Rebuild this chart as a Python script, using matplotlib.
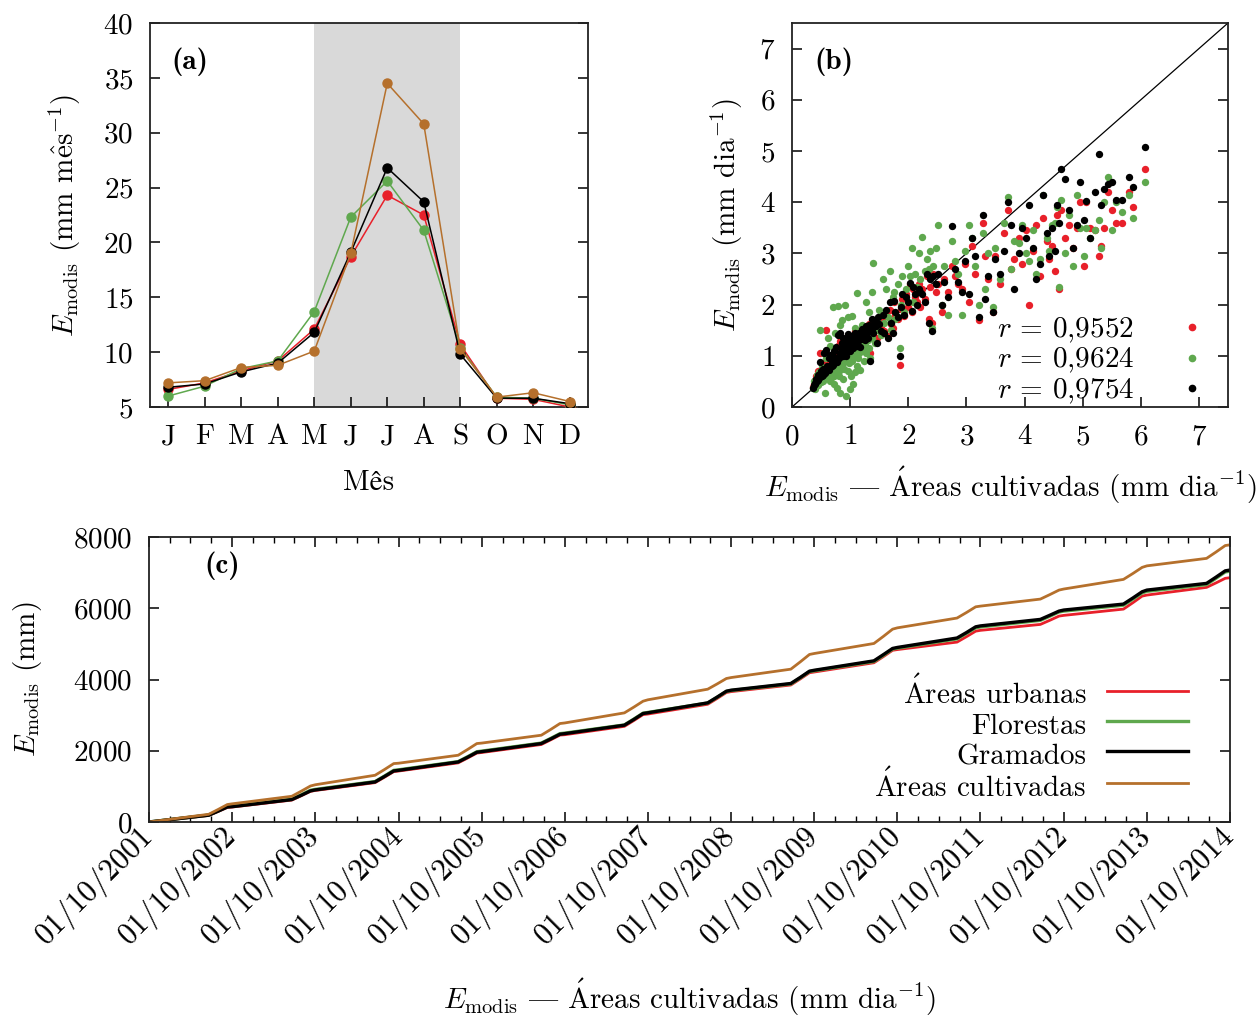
import datetime as dt
import matplotlib
matplotlib.use("Agg")
import matplotlib.pyplot as plt
import matplotlib.dates as mdates
from matplotlib.lines import Line2D
from matplotlib import font_manager, ft2font

plt.rcParams['font.family'] = ['cmr10', 'STIXGeneral', 'DejaVu Serif']
plt.rcParams['mathtext.fontset'] = 'cm'
plt.rcParams['axes.unicode_minus'] = False
plt.rcParams['axes.formatter.use_mathtext'] = True

FS = 21


def cm_char(glyphname, default):
    """Return the character that draws a given glyph of the Computer Modern font."""
    try:
        f = ft2font.FT2Font(font_manager.findfont('cmr10'))
        for code, gi in f.get_charmap().items():
            if f.get_glyph_name(gi) == glyphname:
                return chr(code)
    except Exception:
        pass
    return default


EMDASH = cm_char('endash', '{')
A_ACUTE = r'$\acute{\mathrm{A}}$'
E_HAT = r'$\hat{\mathrm{e}}$'

# ---------------- data: panel (a) monthly ----------------
months = ['J', 'F', 'M', 'A', 'M', 'J', 'J', 'A', 'S', 'O', 'N', 'D']
a_urbanas = [6.6, 7.2, 8.3, 9.2, 12.1, 18.7, 24.3, 22.5, 10.7, 5.8, 5.7, 5.0]
a_florestas = [6.0, 6.9, 8.5, 9.2, 13.7, 22.3, 25.6, 21.1, 10.4, 5.9, 5.8, 5.2]
a_gramados = [6.8, 7.1, 8.2, 9.0, 11.8, 19.1, 26.8, 23.7, 9.8, 5.8, 5.8, 5.3]
a_cultivadas = [7.2, 7.4, 8.6, 8.8, 10.1, 19.0, 34.5, 30.8, 10.3, 5.9, 6.3, 5.5]

# ---------------- data: panel (b) scatter ----------------
x_low = [0.36, 0.38, 0.40, 0.41, 0.43, 0.45, 0.47, 0.48, 0.50, 0.52,
         0.54, 0.55, 0.57, 0.58, 0.60, 0.62, 0.63, 0.65, 0.66, 0.68,
         0.70, 0.71, 0.73, 0.74, 0.76, 0.77, 0.79, 0.80, 0.82, 0.83,
         0.85, 0.86, 0.88, 0.90, 0.91, 0.93, 0.94, 0.96, 0.97, 0.99,
         1.00, 1.02, 1.03, 1.05, 1.06, 1.08, 1.09, 1.11, 1.12, 1.14,
         1.16, 1.17, 1.19, 1.21, 1.23, 1.25, 1.27, 1.28, 1.30, 1.32,
         1.33, 1.35, 1.37, 1.38, 1.40, 1.42, 1.44, 1.46, 1.48, 1.50,
         0.39, 0.44, 0.49, 0.53, 0.59, 0.64, 0.69, 0.72, 0.78, 0.81,
         0.87, 0.89, 0.95, 0.98, 1.01, 1.04, 1.07, 1.10, 1.13, 1.15,
         1.18, 1.20, 1.24, 1.26, 1.29, 1.31, 1.34, 1.36, 1.41, 1.43]
r_low = [0.40, 0.45, 0.52, 0.60, 0.48, 0.70, 0.58, 1.05, 0.66, 0.62,
         0.75, 0.85, 0.70, 1.50, 0.82, 0.72, 0.92, 0.80, 1.00, 0.88,
         0.95, 0.78, 1.05, 0.90, 1.12, 0.85, 1.20, 0.95, 1.28, 1.00,
         0.92, 1.10, 1.30, 1.02, 1.18, 0.98, 1.25, 1.08, 1.40, 1.15,
         1.05, 1.22, 1.32, 1.12, 1.28, 1.20, 1.48, 1.18, 1.35, 1.25,
         1.42, 1.15, 1.30, 1.50, 1.38, 1.28, 1.55, 1.40, 1.32, 1.62,
         1.45, 1.05, 1.70, 1.50, 1.42, 1.65, 1.55, 1.35, 1.72, 1.60,
         0.42, 0.50, 0.55, 0.58, 0.68, 0.66, 0.78, 0.82, 0.86, 0.92,
         0.95, 1.00, 1.05, 1.08, 1.10, 1.15, 1.15, 1.22, 1.25, 1.30,
         1.32, 1.35, 1.40, 1.42, 1.45, 1.48, 1.50, 1.52, 1.58, 1.60]
g_low = [0.38, 0.50, 0.36, 0.55, 0.62, 0.42, 0.68, 1.50, 0.48, 0.78,
         0.55, 1.05, 0.28, 0.95, 0.62, 1.35, 0.70, 0.50, 1.20, 0.58,
         1.95, 0.65, 0.45, 1.45, 0.72, 0.38, 1.98, 0.60, 1.60, 0.28,
         0.80, 1.70, 0.55, 0.95, 2.00, 0.22, 1.30, 0.70, 1.75, 0.35,
         1.00, 0.60, 1.78, 0.45, 1.18, 0.68, 1.55, 0.80, 2.22, 0.95,
         1.30, 0.72, 1.10, 1.60, 0.90, 1.25, 2.05, 1.05, 1.45, 1.85,
         1.15, 0.96, 2.25, 1.35, 2.82, 1.25, 1.60, 1.70, 1.50, 1.90,
         0.40, 0.45, 0.60, 0.50, 0.65, 0.58, 0.70, 0.60, 0.78, 0.70,
         0.85, 0.75, 0.92, 0.85, 1.05, 0.90, 1.10, 1.00, 1.15, 1.05,
         1.20, 1.12, 1.30, 1.20, 1.40, 1.30, 1.45, 1.40, 1.55, 1.50]
b_low = [0.37, 0.42, 0.47, 0.55, 0.50, 0.62, 0.58, 0.88, 0.70, 0.60,
         0.74, 1.05, 0.66, 1.12, 0.80, 0.75, 0.95, 0.78, 1.02, 0.86,
         1.00, 0.82, 1.10, 0.92, 1.18, 0.88, 1.40, 0.98, 1.45, 1.05,
         1.15, 1.25, 1.35, 1.08, 1.22, 1.00, 1.30, 1.12, 1.42, 1.18,
         1.10, 1.25, 1.38, 1.15, 1.30, 1.22, 1.45, 1.20, 1.40, 1.28,
         1.45, 1.18, 1.32, 1.52, 1.35, 1.30, 1.58, 1.42, 1.35, 1.60,
         1.48, 0.90, 1.72, 1.52, 1.45, 1.68, 1.58, 1.25, 1.75, 1.62,
         0.44, 0.52, 0.58, 0.62, 0.70, 0.72, 0.80, 0.85, 0.90, 0.95,
         1.00, 1.05, 1.10, 1.12, 1.15, 1.18, 1.22, 1.25, 1.30, 1.32,
         1.35, 1.38, 1.42, 1.45, 1.48, 1.50, 1.52, 1.55, 1.60, 1.62]

x_mid = [1.53, 1.56, 1.58, 1.62, 1.65, 1.68, 1.70, 1.73, 1.75, 1.78,
         1.82, 1.85, 1.87, 1.90, 1.93, 1.96, 2.00, 2.03, 2.06, 2.08,
         2.12, 2.15, 2.18, 2.20, 2.24, 2.28, 2.32, 2.36, 2.38, 2.40,
         2.43, 2.47]
r_mid = [1.55, 1.75, 1.48, 1.85, 1.38, 1.90, 1.62, 1.55, 2.05, 1.80,
         1.72, 0.82, 1.92, 2.10, 1.78, 2.20, 1.95, 2.40, 1.85, 2.30,
         2.15, 2.05, 2.40, 1.95, 2.30, 2.10, 2.55, 1.72, 2.35, 1.65,
         2.60, 2.25]
g_mid = [1.40, 2.50, 1.65, 2.30, 1.75, 2.65, 1.50, 2.15, 2.25, 1.72,
         2.40, 1.15, 2.00, 2.55, 1.85, 2.30, 2.75, 2.55, 3.10, 2.05,
         2.60, 2.35, 3.00, 2.50, 3.33, 2.65, 2.90, 2.70, 3.05, 1.55,
         2.75, 3.10]
b_mid = [1.48, 1.80, 1.45, 1.90, 1.35, 2.05, 1.65, 1.45, 2.08, 1.85,
         1.75, 1.00, 1.95, 2.20, 1.80, 2.15, 2.05, 2.42, 1.88, 2.35,
         2.20, 2.00, 2.30, 2.25, 2.20, 2.05, 2.60, 1.65, 2.50, 1.48,
         2.55, 2.40]

x_high = [2.52, 2.58, 2.62, 2.68, 2.76, 2.80, 2.86, 2.92, 2.97, 3.05,
          3.10, 3.15, 3.22, 3.28, 3.32, 3.38, 3.45, 3.50, 3.58, 3.65,
          3.72, 3.76, 3.82, 3.90, 3.96, 4.02, 4.08, 4.15, 4.20, 4.26,
          4.32, 4.38, 4.42, 4.48, 4.52, 4.56, 4.60, 4.63, 4.70, 4.76,
          4.84, 4.90, 4.95, 5.02, 5.06, 5.12, 5.22, 5.28, 5.32, 5.36,
          5.44, 5.50, 5.58, 5.68, 5.80, 5.86, 6.08]
r_high = [2.40, 1.85, 2.50, 2.25, 2.75, 2.55, 2.40, 2.30, 2.80, 2.05,
          3.15, 2.60, 1.70, 3.60, 2.95, 2.50, 1.85, 2.95, 2.40, 3.40,
          3.85, 2.70, 2.90, 3.30, 2.80, 3.45, 2.00, 3.05, 3.55, 2.55,
          3.70, 3.25, 2.90, 3.15, 2.65, 3.75, 2.30, 3.85, 3.30, 3.55,
          3.10, 3.50, 4.00, 2.75, 4.00, 3.50, 3.45, 2.95, 3.15, 3.50,
          4.20, 3.85, 3.60, 3.60, 4.20, 3.90, 4.65]
g_high = [3.55, 2.00, 2.75, 1.80, 3.25, 2.85, 2.60, 1.80, 3.05, 3.55,
          3.30, 2.75, 2.00, 3.40, 2.30, 3.00, 1.95, 3.10, 2.50, 3.60,
          4.10, 2.70, 3.25, 3.20, 3.55, 3.00, 2.85, 3.45, 2.60, 2.90,
          4.15, 3.30, 3.05, 3.55, 3.60, 3.90, 2.35, 4.05, 3.00, 3.75,
          2.75, 4.15, 3.50, 2.95, 3.50, 3.30, 3.45, 3.65, 3.10, 4.00,
          4.50, 3.45, 4.00, 3.80, 4.15, 3.70, 4.40]
b_high = [2.60, 2.00, 2.45, 2.15, 3.53, 2.70, 2.45, 2.25, 2.85, 2.20,
          3.30, 2.95, 1.75, 3.75, 2.10, 2.55, 1.85, 2.90, 2.60, 3.05,
          4.00, 3.55, 2.30, 3.00, 3.50, 3.30, 3.95, 3.10, 2.50, 2.80,
          4.15, 3.40, 2.95, 3.50, 3.05, 3.95, 3.60, 4.65, 4.45, 3.85,
          3.10, 3.55, 4.40, 3.65, 4.02, 3.30, 4.20, 4.95, 3.95, 4.25,
          4.35, 4.40, 4.05, 4.05, 4.50, 4.30, 5.08]

r_values = ['0,9552', '0,9624', '0,9754']

# ---------------- data: panel (c) cumulative ----------------
# cumulative values on 01/10 of each year, before the dry-season rise (~20/06),
# mid-rise (~01/08) and after the rise (~10/09)
c_oct = {
    'urb': [0, 420, 885, 1430, 1950, 2450, 3030, 3660, 4210, 4840, 5380, 5800, 6370, 6857],
    'flo': [0, 445, 915, 1465, 1990, 2495, 3075, 3690, 4245, 4880, 5475, 5920, 6475, 7040],
    'gra': [0, 430, 900, 1450, 1975, 2480, 3065, 3700, 4260, 4900, 5505, 5950, 6510, 7072],
    'cul': [0, 510, 1045, 1650, 2215, 2780, 3430, 4055, 4730, 5450, 6060, 6540, 7190, 7780],
}
c_jun = {
    'urb': [185, 615, 1105, 1660, 2175, 2685, 3305, 3845, 4470, 5050, 5546, 5976, 6586],
    'flo': [195, 640, 1135, 1695, 2215, 2725, 3340, 3875, 4505, 5140, 5660, 6085, 6665],
    'gra': [190, 629, 1124, 1685, 2202, 2717, 3344, 3888, 4524, 5165, 5687, 6117, 6698],
    'cul': [216, 722, 1312, 1874, 2436, 3063, 3728, 4290, 5011, 5725, 6257, 6810, 7400],
}
c_aug = {
    'urb': [298, 738, 1260, 1798, 2308, 2850, 3470, 4018, 4645, 5204, 5663, 6158, 6713],
    'flo': [315, 765, 1292, 1834, 2348, 2890, 3502, 4048, 4680, 5295, 5778, 6258, 6843],
    'gra': [305, 750, 1280, 1820, 2333, 2880, 3508, 4060, 4700, 5320, 5805, 6290, 6875],
    'cul': [353, 866, 1476, 2038, 2600, 3227, 3878, 4497, 5212, 5882, 6384, 6978, 7580],
}
c_sep = {
    'urb': [410, 860, 1415, 1935, 2440, 3015, 3635, 4190, 4820, 5357, 5780, 6341, 6840],
    'flo': [435, 890, 1450, 1972, 2480, 3055, 3665, 4222, 4855, 5450, 5895, 6430, 7020],
    'gra': [420, 873, 1433, 1958, 2464, 3045, 3672, 4234, 4872, 5479, 5920, 6463, 7050],
    'cul': [490, 1010, 1640, 2202, 2764, 3391, 4028, 4703, 5413, 6040, 6510, 7147, 7760],
}
start_years = list(range(2001, 2014))

series_keys = ['urb', 'flo', 'gra', 'cul']
series_labels = [A_ACUTE + 'reas urbanas', 'Florestas', 'Gramados', A_ACUTE + 'reas cultivadas']
colors = {'urb': '#e8202a', 'flo': '#5fa84e', 'gra': '#000000', 'cul': '#b5702c'}

XLAB = r'$E_{\mathrm{modis}}$ ' + EMDASH + ' ' + A_ACUTE + r'reas cultivadas (mm dia$^{-1}$)'

# ---------------- figure ----------------
W, H = 1260, 1016
fig = plt.figure(figsize=(W / 100, H / 100), dpi=100)


def box(l, t, r, b):
    return [l / W, 1 - b / H, (r - l) / W, (b - t) / H]


axa = fig.add_axes(box(150, 23, 588, 407))
axb = fig.add_axes(box(792, 23, 1228, 407))
axc = fig.add_axes(box(149, 537, 1230, 822))

for ax in (axa, axb, axc):
    for s in ax.spines.values():
        s.set_linewidth(1.3)
        s.set_color('#222222')

# ---- (a)
mx = list(range(1, 13))
axa.axvspan(5, 9, color='#d9d9d9', lw=0, zorder=0)
for key, vals in zip(series_keys, [a_urbanas, a_florestas, a_gramados, a_cultivadas]):
    axa.plot(mx, vals, '-o', color=colors[key], lw=1.1, ms=6.5, zorder=3)
axa.set_xlim(0.5, 12.5)
axa.set_ylim(5, 40)
axa.set_xticks(mx)
axa.set_xticklabels(months)
axa.set_yticks(range(5, 41, 5))
axa.tick_params(axis='both', direction='in', labelsize=FS, length=7, width=1.1, pad=12,
                left=True, right=True, top=False, bottom=True)
axa.set_xlabel('Mês', fontsize=FS, va='center')
axa.xaxis.set_label_coords(0.5, -0.198)
axa.set_ylabel(r'$E_{\mathrm{modis}}$ (mm m' + E_HAT + r's$^{-1}$)', fontsize=FS, va='center')
axa.yaxis.set_label_coords(-0.194, 0.5)
axa.text(0.091, 0.898, '(a)', transform=axa.transAxes, fontsize=FS,
         family='cmb10', ha='center', va='center')

# ---- (b)
xs = x_low + x_mid + x_high
ys = {'urb': r_low + r_mid + r_high,
      'flo': g_low + g_mid + g_high,
      'gra': b_low + b_mid + b_high}
axb.axline((0, 0), slope=1, color='black', lw=0.9, zorder=1)
handles_b = []
for key, rv in zip(['urb', 'flo', 'gra'], r_values):
    axb.scatter(xs, ys[key], s=28, color=colors[key], lw=0, zorder=2)
    handles_b.append(Line2D([], [], ls='none', marker='o', ms=4.5, color=colors[key],
                            label=f'$r$ = {rv}'))
axb.set_xlim(0, 7.5)
axb.set_ylim(0, 7.5)
axb.set_xticks(range(0, 8))
axb.set_yticks(range(0, 8))
axb.tick_params(axis='both', direction='in', labelsize=FS, length=7, width=1.1, pad=12,
                left=True, right=True, top=False, bottom=True)
axb.set_xlabel(XLAB, fontsize=FS, va='center')
axb.xaxis.set_label_coords(0.5, -0.203)
axb.set_ylabel(r'$E_{\mathrm{modis}}$ (mm dia$^{-1}$)', fontsize=FS, va='center')
axb.yaxis.set_label_coords(-0.149, 0.5)
axb.text(0.096, 0.898, '(b)', transform=axb.transAxes, fontsize=FS,
         family='cmb10', ha='center', va='center')
axb.legend(handles=handles_b, loc='lower right', bbox_to_anchor=(0.972, -0.035),
           frameon=False, markerfirst=False, fontsize=FS, handlelength=0.6,
           handletextpad=1.7, labelspacing=0.04, borderpad=0)

# ---- (c)
dates = []
for y in start_years:
    dates += [dt.date(y, 10, 1), dt.date(y + 1, 6, 20), dt.date(y + 1, 8, 1), dt.date(y + 1, 9, 10)]
dates.append(dt.date(2014, 10, 1))

handles_c = []
for key, lab in zip(series_keys, series_labels):
    vals = []
    for i in range(len(start_years)):
        vals += [c_oct[key][i], c_jun[key][i], c_aug[key][i], c_sep[key][i]]
    vals.append(c_oct[key][-1])
    lw = 2.0 if key in ('urb', 'cul') else 2.4
    ln, = axc.plot(dates, vals, color=colors[key], lw=lw, label=lab)
    handles_c.append(ln)

axc.set_xlim(dt.date(2001, 10, 1), dt.date(2014, 10, 1))
axc.set_ylim(0, 8000)
axc.set_yticks(range(0, 8001, 2000))
axc.xaxis.set_major_locator(mdates.YearLocator(base=1, month=10, day=1))
axc.xaxis.set_major_formatter(mdates.DateFormatter('%d/%m/%Y'))
axc.xaxis.set_minor_locator(mdates.MonthLocator(bymonth=[1, 4, 7]))
axc.tick_params(axis='both', which='major', direction='in', labelsize=FS, length=7,
                width=1.1, pad=12, left=True, right=True, top=True, bottom=True)
axc.tick_params(axis='x', which='minor', direction='in', length=4, width=1.0,
                top=True, bottom=True)
axc.tick_params(axis='x', which='major', pad=7, labelsize=22)
for lbl in axc.get_xticklabels():
    lbl.set_rotation(45)
    lbl.set_ha('right')
    lbl.set_va('center')
    lbl.set_rotation_mode('anchor')
axc.set_xlabel(XLAB, fontsize=FS, va='center')
axc.xaxis.set_label_coords(0.5, -0.614)
axc.set_ylabel(r'$E_{\mathrm{modis}}$ (mm)', fontsize=FS, va='center')
axc.yaxis.set_label_coords(-0.112, 0.5)
axc.text(0.0675, 0.898, '(c)', transform=axc.transAxes, fontsize=FS,
         family='cmb10', ha='center', va='center')
axc.legend(handles=handles_c, loc='lower right', bbox_to_anchor=(0.975, 0.015),
           frameon=False, markerfirst=False, fontsize=FS, handlelength=2.8,
           handletextpad=0.7, handleheight=1.35, labelspacing=-0.09, borderpad=0)

fig.savefig('out.png', dpi=100)
